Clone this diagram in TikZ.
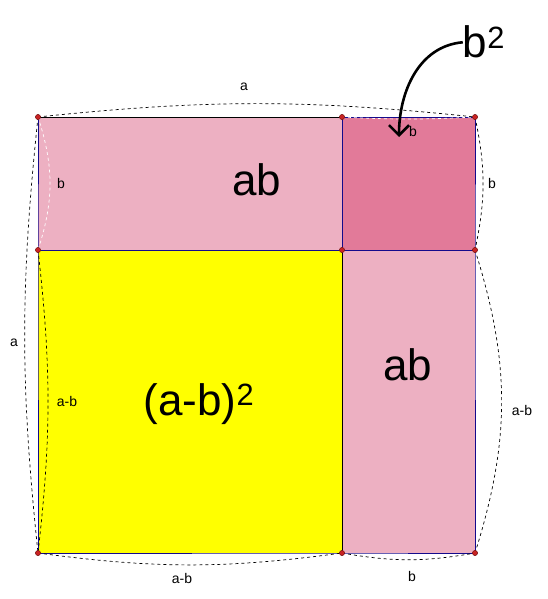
\documentclass[tikz,border=0pt]{standalone}
\usepackage{fontspec}
\setmainfont{Liberation Sans}
\usepackage{xcolor}
\usetikzlibrary{arrows.meta}
\definecolor{lightpink}{RGB}{237,176,194}
\definecolor{darkpink}{RGB}{226,122,153}
\definecolor{squareyellow}{RGB}{255,255,0}
\definecolor{edgeblue}{RGB}{20,10,140}
\definecolor{dotred}{RGB}{200,35,35}

\begin{document}
\begin{tikzpicture}[x=1pt,y=1pt,
  dim/.style={line width=0.7pt,dash pattern=on 3pt off 3pt},
  dimw/.style={dim,white},
  small/.style={font=\fontsize{14}{14}\selectfont,inner sep=0pt},
  big/.style={font=\fontsize{44}{44}\selectfont,inner sep=0pt,anchor=base},
  dot/.style={fill=dotred,draw=dotred!60!black,line width=0.5pt}]
\useasboundingbox (0,0) rectangle (547,-599);
% corners of the square
\foreach \n/\x/\y in {tl/38/117, tm/342/117, tr/475/117, ml/38/250, mm/342/250,
    mr/475/250, bl/38/553, bm/342/553, br/475/553}
  \coordinate (\n) at (\x,-\y);

% the four pieces
\fill[lightpink] (tl) rectangle (mm);
\fill[darkpink] (tm) rectangle (mr);
\fill[squareyellow] (ml) rectangle (bm);
\fill[lightpink] (mm) rectangle (br);
\draw[edgeblue,line width=0.8pt] (tl) -- (ml) -- (bl) -- (bm) -- (br) -- (mr) -- (tr) -- (tm) -- (mm);
\draw[edgeblue,line width=0.8pt] (ml) -- (mr);
\draw[line width=0.8pt] (tl) -- (tm);
\draw[line width=0.8pt] (mm) -- (bm);

% dimension arcs
\draw[dim] (tl) to[bend left=6] (tr);
\draw[dimw] (tm) to[bend right=3] (tr);
\draw[dimw] (tl) to[bend left=18] (ml);
\draw[dim] (tl) to[bend right=6] (bl);
\draw[dim] (ml) to[bend left=6.5] (bl);
\draw[dim] (tr) to[bend left=12] (mr);
\draw[dim] (mr) to[bend left=17.5] (br);
\draw[dim] (bl) to[bend right=7.7] (bm);
\draw[dim] (bm) to[bend right=10] (br);

% side labels
\node[small] (topa) at (244,-87) {a};
\node[small] (topb) at (413,-131) {b};
\node[small] (leftb) at (61,-183) {b};
\node[small] (rightb) at (492,-183) {b};
\node[small] (lefta) at (14,-343) {a};
\node[small] (leftab) at (67,-401) {a-b};
\node[small] (rightab) at (522,-410) {a-b};
\node[small] (botab) at (182,-578) {a-b};
\node[small] (botb) at (412,-576) {b};

% area labels
\node[big] (abtop) at (257,-195) {ab};
\node[big] (abright) at (408,-380) {ab};
\node[big] (sq) at (199,-415) {(a-b)\textsuperscript{2}};
\node[big] (bsq) at (484,-58) {b\textsuperscript{2}};

% arrow to the small square
\coordinate (tip) at (399,-137);
\draw[line width=2.6pt,-{Straight Barb[length=10pt,width=20pt]}] (bsq.west) to[out=185,in=90] (tip);

% corner points
\foreach \n in {tl,tm,tr,ml,mm,mr,bl,bm,br}
  \filldraw[dot] (\n) circle (2.6);
\end{tikzpicture}
\end{document}
